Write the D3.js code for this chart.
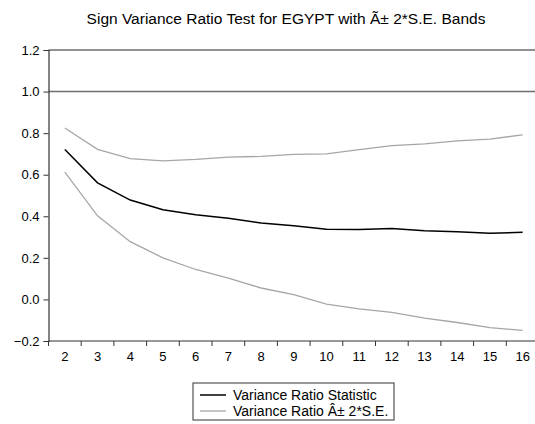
<!DOCTYPE html>
<html>
<head>
<meta charset="utf-8">
<script src="https://cdn.jsdelivr.net/npm/d3@7"></script>
<style>
  body { margin: 0; background: #fff; }
  svg { display: block; font-family: "Liberation Sans", Arial, sans-serif; }
</style>
</head>
<body>
<div id="chart"></div>
<script>
const lags = [2, 3, 4, 5, 6, 7, 8, 9, 10, 11, 12, 13, 14, 15, 16];
const ratioStat = [0.721, 0.561, 0.478, 0.431, 0.407, 0.391, 0.368, 0.355, 0.338, 0.336, 0.341, 0.331, 0.326, 0.318, 0.323];
const upperBand = [0.825, 0.722, 0.677, 0.667, 0.674, 0.685, 0.688, 0.698, 0.700, 0.721, 0.740, 0.748, 0.763, 0.771, 0.792];
const lowerBand = [0.612, 0.402, 0.278, 0.200, 0.144, 0.103, 0.055, 0.023, -0.023, -0.045, -0.062, -0.090, -0.111, -0.136, -0.149];
const yTicks = [-0.2, 0.0, 0.2, 0.4, 0.6, 0.8, 1.0, 1.2];
const titleText = "Sign Variance Ratio Test for EGYPT with \u00C3\u00B1 2*S.E. Bands";
const legendLabels = ["Variance Ratio Statistic", "Variance Ratio \u00C2\u00B1 2*S.E."];

const width = 535;
const height = 424;
const plotLeft = 48.5;
const plotTop = 50;
const plotBottom = 341;
const step = 32.7;

const svg = d3.select('#chart')
  .append('svg')
  .attr('width', width)
  .attr('height', height)

const x = d3.scaleBand()
  .domain(lags)
  .range([plotLeft, plotLeft + step * lags.length])
  .padding(0)

const y = d3.scaleLinear()
  .domain([-0.2, 1.2])
  .range([plotBottom, plotTop])

const cx = d => x(d) + x.bandwidth() / 2;

//Title
svg.append('text')
  .attr('x', 286)
  .attr('y', 24)
  .attr('text-anchor', 'middle')
  .attr('font-size', 15.5)
  .attr('fill', '#000')
  .text(titleText)

//Top frame line and 1.0 reference line
svg.append('line')
  .attr('x1', plotLeft).attr('x2', width)
  .attr('y1', y(1.2)).attr('y2', y(1.2))
  .attr('stroke', '#6e6e6e').attr('stroke-width', 1.4)

svg.append('line')
  .attr('x1', plotLeft).attr('x2', width)
  .attr('y1', y(1.0)).attr('y2', y(1.0))
  .attr('stroke', '#6e6e6e').attr('stroke-width', 1.4)

//Y axis
const yAxis = d3.axisLeft(y)
  .tickValues(yTicks)
  .tickSize(5)
  .tickPadding(4)
  .tickFormat(d3.format('.1f'))

const gy = svg.append('g')
  .attr('transform', `translate(${plotLeft},0)`)
  .call(yAxis)
gy.select('.domain').attr('stroke', '#333').attr('stroke-width', 1.2)
gy.selectAll('.tick line').attr('stroke', '#333')
gy.selectAll('.tick text')
  .attr('font-size', 13)
  .attr('font-family', '"Liberation Sans", Arial, sans-serif')
  .attr('fill', '#000')

//X axis line
svg.append('line')
  .attr('x1', plotLeft).attr('x2', width)
  .attr('y1', plotBottom).attr('y2', plotBottom)
  .attr('stroke', '#333').attr('stroke-width', 1.2)

//X ticks at category boundaries
svg.append('g')
  .selectAll('line')
  .data(lags)
  .enter().append('line')
  .attr('x1', d => x(d)).attr('x2', d => x(d))
  .attr('y1', plotBottom).attr('y2', plotBottom + 5)
  .attr('stroke', '#333')

//X labels
svg.append('g')
  .selectAll('text')
  .data(lags)
  .enter().append('text')
  .attr('x', d => cx(d))
  .attr('y', 361)
  .attr('text-anchor', 'middle')
  .attr('font-size', 13)
  .attr('fill', '#000')
  .text(d => d)

//Lines
const line = d3.line()
  .x((d, i) => cx(lags[i]))
  .y(d => y(d))

svg.append('path')
  .datum(upperBand)
  .attr('d', line)
  .attr('fill', 'none')
  .attr('stroke', '#a6a6a6')
  .attr('stroke-width', 1.3)

svg.append('path')
  .datum(lowerBand)
  .attr('d', line)
  .attr('fill', 'none')
  .attr('stroke', '#a6a6a6')
  .attr('stroke-width', 1.3)

svg.append('path')
  .datum(ratioStat)
  .attr('d', line)
  .attr('fill', 'none')
  .attr('stroke', '#000')
  .attr('stroke-width', 1.5)

//Legend
const legend = svg.append('g')
  .attr('id', 'legend')

legend.append('rect')
  .attr('x', 193).attr('y', 383)
  .attr('width', 201).attr('height', 37)
  .attr('fill', '#fff')
  .attr('stroke', '#333')
  .attr('stroke-width', 1)

const legendColors = ['#000', '#a6a6a6'];
legendLabels.forEach((label, i) => {
  const ly = 395 + i * 16;
  legend.append('line')
    .attr('x1', 200).attr('x2', 226)
    .attr('y1', ly).attr('y2', ly)
    .attr('stroke', legendColors[i])
    .attr('stroke-width', i === 0 ? 1.5 : 1.3)
  legend.append('text')
    .attr('x', 233)
    .attr('y', ly + 5)
    .attr('font-size', 14)
    .attr('fill', '#000')
    .text(label)
})
</script>
</body>
</html>
